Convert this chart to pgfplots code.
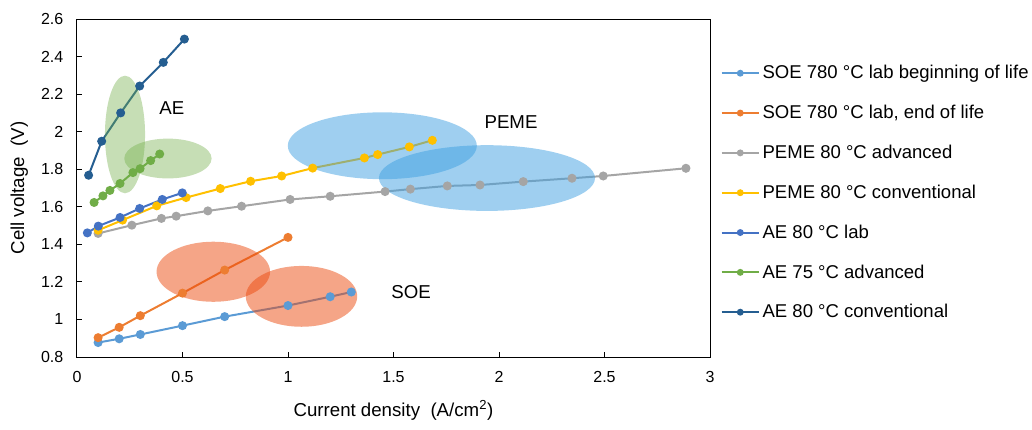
\documentclass[border=0pt]{standalone}
\usepackage{fontspec}
\setmainfont{Liberation Sans}
\usepackage{pgfplots}
\pgfplotsset{compat=1.18}

\definecolor{soeb}{HTML}{5B9BD5}
\definecolor{soee}{HTML}{ED7D31}
\definecolor{pemea}{HTML}{A5A5A5}
\definecolor{pemec}{HTML}{FFC000}
\definecolor{aelab}{HTML}{4472C4}
\definecolor{aeadv}{HTML}{70AD47}
\definecolor{aecon}{HTML}{255E91}
\definecolor{ellg}{HTML}{70AD47}
\definecolor{ellb}{HTML}{3FA0E1}
\definecolor{ello}{HTML}{EB4B0F}

\begin{document}
\begin{tikzpicture}
  % page = 1032 x 429 px, 1 px = 0.75pt, axis box at origin
  \useasboundingbox (-57.75pt,-54pt) rectangle (716.25pt,267.75pt);
  \begin{axis}[
      scale only axis,
      width=474.75pt, height=253.5pt,
      at={(0,0)}, anchor=south west,
      xmin=0, xmax=3, ymin=0.8, ymax=2.6,
      xtick={0,0.5,...,3}, ytick={0.8,1,...,2.6},
      xtick pos=bottom, ytick pos=left,
      tick align=inside, major tick length=4pt,
      tick style={black, line width=0.75pt},
      axis line style={black, line width=0.75pt},
      /pgf/number format/assume math mode=true,
      tick label style={font=\fontsize{12}{14}\selectfont},
      xticklabel style={yshift=-7.5pt},
      yticklabel style={xshift=-6.75pt, /pgf/number format/fixed, /pgf/number format/precision=1},
      label style={font=\fontsize{14}{16}\selectfont},
      xlabel={Current density\ \ (A/cm\textsuperscript{2})},
      ylabel={Cell voltage\ \ (V)},
      xlabel style={yshift=-6.25pt},
      ylabel style={yshift=3pt},
      every axis plot/.append style={line width=1.5pt, mark=*, mark size=2.6pt},
      legend style={at={(1.01,0.879)}, anchor=north west, draw=none, fill=none,
        font=\fontsize{13.9}{16}\selectfont, row sep=14.3pt,
        cells={anchor=west}},
      legend image code/.code={\draw[mark repeat=2,mark phase=2,#1,mark size=1.8pt]
        plot coordinates {(0pt,0pt) (14pt,0pt) (28pt,0pt)};},
    ]

    % SOE 780 C lab beginning of life
    \addplot[color=soeb] coordinates {
      (0.10,0.877) (0.20,0.897) (0.30,0.92) (0.50,0.967)
      (0.70,1.015) (1.00,1.074) (1.20,1.121) (1.30,1.146)};
    \addlegendentry{SOE 780 °C lab beginning of life}

    % SOE 780 C lab, end of life
    \addplot[color=soee] coordinates {
      (0.10,0.903) (0.20,0.958) (0.30,1.02) (0.50,1.14)
      (0.70,1.263) (1.00,1.437)};
    \addlegendentry{SOE 780 °C lab, end of life}

    % PEME 80 C advanced
    \addplot[color=pemea] coordinates {
      (0.10,1.458) (0.26,1.502) (0.40,1.538) (0.47,1.55) (0.62,1.578)
      (0.78,1.603) (1.01,1.639) (1.20,1.656) (1.46,1.681) (1.58,1.694)
      (1.755,1.711) (1.91,1.716) (2.115,1.734) (2.346,1.752) (2.494,1.764)
      (2.886,1.805)};
    \addlegendentry{PEME 80 °C advanced}

    % PEME 80 C conventional
    \addplot[color=pemec] coordinates {
      (0.10,1.475) (0.216,1.529) (0.378,1.605) (0.517,1.649) (0.679,1.697)
      (0.823,1.736) (0.97,1.764) (1.117,1.806) (1.362,1.86) (1.425,1.878)
      (1.575,1.919) (1.684,1.954)};
    \addlegendentry{PEME 80 °C conventional}

    % AE 80 C lab
    \addplot[color=aelab] coordinates {
      (0.049,1.461) (0.101,1.497) (0.204,1.543) (0.297,1.591)
      (0.404,1.639) (0.499,1.674)};
    \addlegendentry{AE 80 °C lab}

    % AE 75 C advanced
    \addplot[color=aeadv] coordinates {
      (0.081,1.623) (0.123,1.658) (0.156,1.687) (0.204,1.724)
      (0.265,1.782) (0.299,1.803) (0.349,1.846) (0.392,1.881)};
    \addlegendentry{AE 75 °C advanced}

    % AE 80 C conventional
    \addplot[color=aecon] coordinates {
      (0.055,1.768) (0.117,1.949) (0.207,2.10) (0.297,2.243)
      (0.409,2.369) (0.509,2.493)};
    \addlegendentry{AE 80 °C conventional}

    % technology regions
    \fill[ellg, fill opacity=0.4] (axis cs:0.2275,1.985) ellipse [x radius=0.095, y radius=0.313];
    \fill[ellg, fill opacity=0.4] (axis cs:0.431,1.857) ellipse [x radius=0.207, y radius=0.106];
    \fill[ellb, fill opacity=0.5] (axis cs:1.447,1.925) ellipse [x radius=0.448, y radius=0.178];
    \fill[ellb, fill opacity=0.5] (axis cs:1.943,1.753) ellipse [x radius=0.512, y radius=0.175];
    \fill[ello, fill opacity=0.5] (axis cs:0.646,1.254) ellipse [x radius=0.269, y radius=0.160];
    \fill[ello, fill opacity=0.5] (axis cs:1.064,1.123) ellipse [x radius=0.264, y radius=0.162];

    \node[font=\fontsize{14}{16}\selectfont] at (axis cs:0.45,2.126) {AE};
    \node[font=\fontsize{14}{16}\selectfont] at (axis cs:2.057,2.052) {PEME};
    \node[font=\fontsize{14}{16}\selectfont] at (axis cs:1.583,1.147) {SOE};
  \end{axis}
\end{tikzpicture}
\end{document}
